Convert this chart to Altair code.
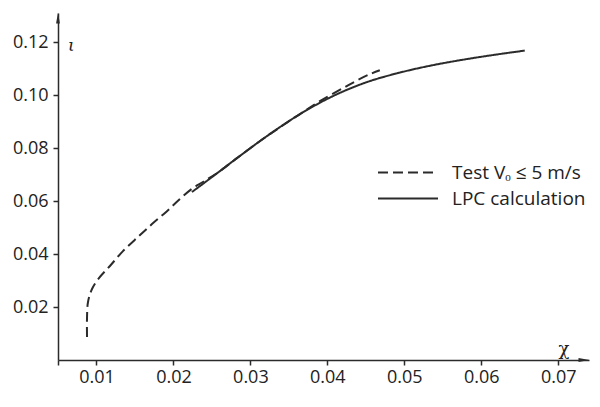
import altair as alt
import pandas as pd

# ---- data ----
test_x = [0.00877, 0.00877, 0.00890, 0.00942, 0.01032, 0.01175, 0.01344, 0.01552,
          0.01721, 0.01916, 0.02084, 0.02253, 0.02383, 0.02604, 0.02825, 0.03214,
          0.03643, 0.03903, 0.04227, 0.04396, 0.04552, 0.04682]
test_y = [0.0087, 0.0158, 0.0219, 0.0268, 0.0309, 0.0355, 0.0411, 0.0468,
          0.0513, 0.0562, 0.0608, 0.0649, 0.0672, 0.0713, 0.0762, 0.0845,
          0.0928, 0.0977, 0.1030, 0.1057, 0.1079, 0.1094]

calc_x = [0.02240, 0.02526, 0.02825, 0.03214, 0.03643, 0.04071, 0.04513,
          0.04942, 0.05370, 0.05812, 0.06240, 0.06565]
calc_y = [0.0634, 0.0696, 0.0762, 0.0845, 0.0928, 0.0996, 0.1049,
          0.1085, 0.1113, 0.1136, 0.1155, 0.1168]

series_names = ["Test V\u2092  \u2264 5 m/s", "LPC calculation"]
x_ticks = [0.005, 0.01, 0.02, 0.03, 0.04, 0.05, 0.06, 0.07]
y_ticks = [0.02, 0.04, 0.06, 0.08, 0.10, 0.12]
x_domain = [0.005, 0.074]
y_domain = [0.0, 0.131]

df = pd.concat([
    pd.DataFrame({"x": test_x, "y": test_y, "series": series_names[0],
                  "order": list(range(len(test_x)))}),
    pd.DataFrame({"x": calc_x, "y": calc_y, "series": series_names[1],
                  "order": list(range(len(calc_x)))}),
], ignore_index=True)

INK = "#2b2b2b"
FONT = "Open Sans"

lines = alt.Chart(df).mark_line(
    interpolate="catmull-rom", strokeWidth=2, color=INK
).encode(
    x=alt.X("x:Q", scale=alt.Scale(domain=x_domain, nice=False, zero=False),
            axis=alt.Axis(values=x_ticks, format=".2f", title=None,
                          labelExpr="datum.value < 0.008 ? '' : format(datum.value, '.2f')",
                          labelPadding=3)),
    y=alt.Y("y:Q", scale=alt.Scale(domain=y_domain, nice=False),
            axis=alt.Axis(values=y_ticks, format=".2f", title=None, labelPadding=5)),
    strokeDash=alt.StrokeDash(
        "series:N",
        scale=alt.Scale(domain=series_names, range=[[10, 5], [1, 0]]),
        legend=alt.Legend(
            title=None, orient="none", legendX=340.5, legendY=150,
            symbolType="M-6,0H6", symbolSize=100, symbolStrokeWidth=2,
            symbolStrokeColor=INK, symbolFillColor="transparent",
            labelFont=FONT, labelFontSize=19, labelColor="#222",
            labelOffset=34.5, rowPadding=6, padding=0,
        ),
    ),
    order="order:Q",
)

y_arrow = alt.Chart(pd.DataFrame({"a": [0]})).mark_point(
    shape="M0,-1L0.35,1L-0.35,1Z", filled=True, color=INK, opacity=1, size=120
).encode(x=alt.value(0), y=alt.value(5))

x_arrow = alt.Chart(pd.DataFrame({"a": [0]})).mark_point(
    shape="M1,0L-1,0.35L-1,-0.35Z", filled=True, color=INK, opacity=1, size=120
).encode(x=alt.value(526), y=alt.value(347))

iota = alt.Chart(pd.DataFrame({"t": ["\u03b9"]})).mark_text(
    font="DejaVu Serif", fontSize=17, fontStyle="italic", color="#222",
    align="left", baseline="middle"
).encode(text="t:N", x=alt.value(10), y=alt.value(33))

chi = alt.Chart(pd.DataFrame({"t": ["\u03c7"]})).mark_text(
    font="DejaVu Serif", fontSize=18, color="#222",
    align="center", baseline="middle"
).encode(text="t:N", x=alt.value(506), y=alt.value(337))

chart = alt.layer(lines, y_arrow, x_arrow, iota, chi).properties(
    width=531, height=347,
    padding={"left": 58, "top": 13, "right": 11, "bottom": 47},
    autosize=alt.AutoSizeParams(type="none"),
    background="white",
).configure_view(stroke=None).configure_axis(
    grid=False, domainColor=INK, domainWidth=1.5, tickColor=INK, tickWidth=1.5,
    tickSize=5, labelFont=FONT, labelFontSize=18, labelColor="#222",
)

chart.save("out.html", embed_options={"renderer": "svg", "actions": False})
